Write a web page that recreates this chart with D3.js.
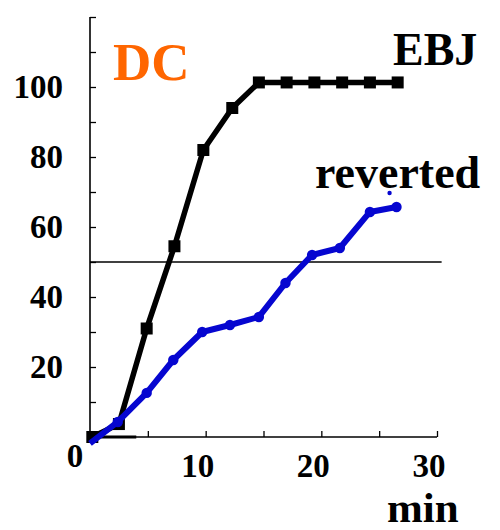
<!DOCTYPE html>
<html><head><meta charset="utf-8">
<script src="https://cdn.jsdelivr.net/npm/d3@7"></script>
<style>body{margin:0;background:#fff}svg{display:block}text{font-family:"Liberation Serif","Times New Roman",serif;font-weight:bold}</style>
</head><body>
<script>
const ebjTime = [0.2, 2.5, 4.9, 7.3, 9.8, 12.3, 14.6, 17.0, 19.4, 21.8, 24.2, 26.6];
const ebjValue = [0, 3.7, 31, 54.5, 82, 94, 101.3, 101.3, 101.3, 101.3, 101.3, 101.3];
const revTime = [0, 2.4, 4.9, 7.2, 9.7, 12.1, 14.6, 16.9, 19.2, 21.6, 24.2, 26.5];
const revValue = [-1.8, 4.3, 12.6, 22, 30, 32, 34.3, 44, 52, 54, 64.3, 65.7];
const extraDot = [{t: 25.9, v: 69.7}];
const yTicks = [10,20,30,40,50,60,70,80,90,100,110,120];
const yLabels = [20,40,60,80,100];
const xTicks = [5,10,15,20,25,30];
const xLabels = [10,20,30];
const threshold = 50;
const baseSegment = [0, 4]; // thicker baseline piece near origin

const W=500,H=530;
const svg=d3.select("body").append("svg").attr("width",W).attr("height",H);
const x=d3.scaleLinear().domain([0,30]).range([90,437]);
const y=d3.scaleLinear().domain([0,120]).range([437,17]);

// axes
const xAxis=d3.axisBottom(x).tickValues(xTicks).tickSize(-6).tickFormat("");
const gx=svg.append("g").attr("transform",`translate(0,${y(0)})`).call(xAxis);
gx.select(".domain").attr("d",`M${x(0)},0H${x(30)}`).attr("stroke","#000").attr("stroke-width",1.6);
gx.selectAll(".tick line").attr("stroke-width",1.3);
const yAxis=d3.axisLeft(y).tickValues(yTicks).tickSize(-6).tickFormat("");
const gy=svg.append("g").attr("transform",`translate(${x(0)},0)`).call(yAxis);
gy.select(".domain").attr("d",`M0,${y(120)}V${y(0)}`).attr("stroke","#000").attr("stroke-width",1.6);
gy.selectAll(".tick line").attr("stroke-width",1.3);
svg.append("line").attr("x1",x(baseSegment[0])).attr("x2",x(baseSegment[1]))
  .attr("y1",y(0)).attr("y2",y(0)).attr("stroke","#000").attr("stroke-width",3);

svg.selectAll(".ylab").data(yLabels).enter().append("text")
  .attr("x",x(0)-27).attr("y",d=>y(d)).attr("dy","0.33em")
  .attr("text-anchor","end").attr("font-size",33).text(d=>d);
svg.selectAll(".xlab").data(xLabels).enter().append("text")
  .attr("x",d=>x(d)-8).attr("y",y(0)+40)
  .attr("text-anchor","middle").attr("font-size",33).text(d=>d);
svg.append("text").attr("x",x(0)-15).attr("y",y(0)+30).attr("text-anchor","middle").attr("font-size",33).text("0");

// threshold line
svg.append("line").attr("x1",x(0)).attr("x2",x(30.4)).attr("y1",y(threshold)).attr("y2",y(threshold))
  .attr("stroke","#000").attr("stroke-width",1.5);

// EBJ
const ebj=ebjTime.map((t,i)=>({t,v:ebjValue[i]}));
const rev=revTime.map((t,i)=>({t,v:revValue[i]}));
const line=d3.line().x(d=>x(d.t)).y(d=>y(d.v));
svg.append("path").datum(ebj).attr("d",line).attr("fill","none").attr("stroke","#000").attr("stroke-width",5.5).attr("stroke-linejoin","round");
svg.selectAll(".sq").data(ebj).enter().append("rect")
  .attr("x",d=>x(d.t)-6).attr("y",d=>y(d.v)-6).attr("width",12).attr("height",12).attr("fill","#000");

// reverted
const blue="#0606d0";
svg.append("path").datum(rev).attr("d",line).attr("fill","none").attr("stroke",blue).attr("stroke-width",6).attr("stroke-linejoin","round");
svg.selectAll(".ci").data(rev.slice(1)).enter().append("circle")
  .attr("cx",d=>x(d.t)).attr("cy",d=>y(d.v)).attr("r",5.2).attr("fill",blue);
svg.selectAll(".ed").data(extraDot).enter().append("circle")
  .attr("cx",d=>x(d.t)).attr("cy",d=>y(d.v)).attr("r",2.2).attr("fill",blue);

// labels
svg.append("text").attr("x",113).attr("y",80).attr("font-size",53).attr("fill","#ff6600").text("DC");
svg.append("text").attr("x",393).attr("y",65).attr("font-size",46).text("EBJ");
svg.append("text").attr("x",315).attr("y",188).attr("font-size",46).text("reverted");
svg.append("text").attr("x",387).attr("y",522).attr("font-size",43).text("min");
</script>
</body></html>
